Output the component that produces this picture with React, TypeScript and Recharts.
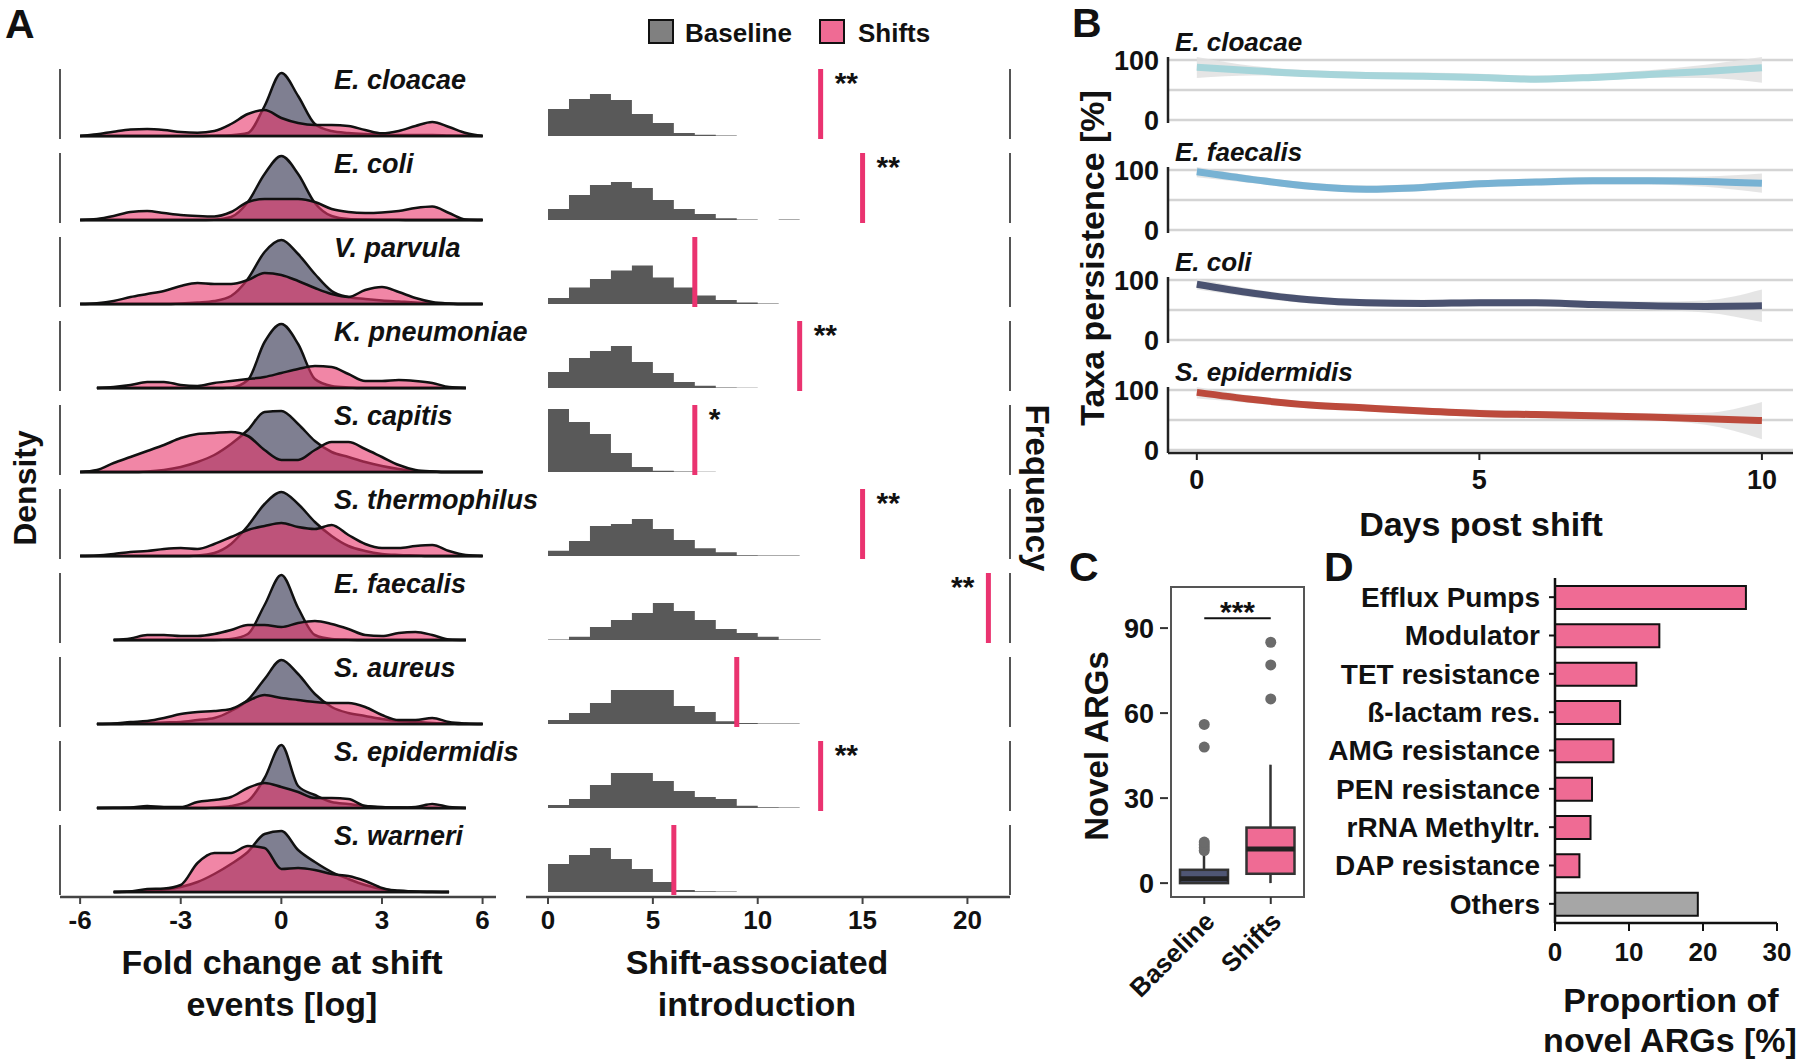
import React from 'react';
import {
  ComposedChart,
  BarChart,
  Area,
  Line,
  Bar,
  Scatter,
  Cell,
  CartesianGrid,
  XAxis,
  YAxis,
  ReferenceLine,
  ReferenceDot,
  ReferenceArea,
  Label,
} from 'recharts';

const FONT = "'Liberation Sans', Arial, Helvetica, sans-serif";
const INK = '#111111';
const PINK = '#ef6b94';
const RED = '#ea3370';

// ---------- A: fold change densities (ridge heights) ----------
const SPECIES_A = [
  'E. cloacae', 'E. coli', 'V. parvula', 'K. pneumoniae', 'S. capitis',
  'S. thermophilus', 'E. faecalis', 'S. aureus', 'S. epidermidis', 'S. warneri',
];
const FC_X = [-6, -5.5, -5, -4.5, -4, -3.5, -3, -2.5, -2, -1.5, -1, -0.5, 0, 0.5, 1, 1.5, 2, 2.5, 3, 3.5, 4, 4.5, 5, 5.5, 6];

const cloacaeBase = [0, 0, 0, 0, 0, 0, 0, 0, 0.3, 0.8, 3, 30, 63, 40, 12, 5, 3, 2, 1.5, 1, 1, 1, 0.5, 0.2, 0];
const cloacaeShift = [0, 1.7, 4.3, 6.5, 7, 6, 4, 3.3, 5, 12, 22, 26, 18, 13, 11, 11, 10, 6, 2.7, 5, 10, 14, 9, 3, 0];
const coliBase = [0, 0, 0, 0, 0, 0, 0, 0, 0.3, 3, 18, 46, 64, 46, 17, 4, 1, 0.5, 0.3, 0.2, 0, 0, 0, 0, 0];
const coliShift = [0, 1, 4, 8, 9, 7, 5, 4, 3.5, 8, 18, 21, 21, 21, 18, 11, 8, 7, 7.5, 9, 12, 13.5, 7, 0.5, 0];
const parvulaBase = [0, 0, 0, 0, 0, 0, 0.5, 1.5, 3, 8, 25, 52, 64, 50, 30, 13, 7, 5, 3.5, 2.5, 1.5, 1, 0.3, 0, 0];
const parvulaShift = [0, 0.8, 3, 7, 10, 13, 18, 21, 20, 20, 24, 31, 29, 23, 16, 10, 7, 14, 17, 12, 6, 2, 0.5, 0, 0];
const pneumoniaeBase = [null, 0, 0, 0, 0, 0, 0, 0, 0, 0.5, 8, 46, 64, 44, 9, 2, 0.5, 0, 0, 0, 0, 0, 0, 0, null];
const pneumoniaeShift = [null, 0, 1, 3, 6, 6, 3, 2, 5, 7, 9, 11, 15, 19, 22, 21, 14, 7, 7, 8, 7, 5, 1, 0, null];
const capitisBase = [0, 0, 0, 0, 0.5, 2, 5, 10, 17, 28, 42, 60, 61, 48, 31, 20, 15, 10, 6, 3, 1, 0.5, 0, 0, 0];
const capitisShift = [0, 2, 9, 15, 21, 27, 34, 38, 39, 40, 36, 22, 12, 12, 22, 30, 30, 23, 15, 7, 2, 0.5, 0, 0, 0];
const thermophilusBase = [0, 0, 0, 0, 0, 0, 0, 0.5, 3, 12, 30, 52, 64, 52, 34, 20, 10, 5, 2, 1, 0.5, 0, 0, 0, 0];
const thermophilusShift = [0, 0.5, 2, 4, 5, 7, 8, 7, 12, 19, 26, 30, 33, 29, 27, 31, 21, 12, 8, 8, 10, 11, 5, 1, 0];
const faecalisBase = [null, null, 0, 0, 0, 0, 0, 0, 0, 1, 6, 35, 65, 32, 5, 1, 0.3, 0, 0, 0, 0, 0, 0, 0, null];
const faecalisShift = [null, null, 0, 1.5, 5, 5, 4, 4, 6, 10, 15, 15, 13, 17, 19, 16, 11, 5, 4, 7, 8, 5, 0.5, 0, null];
const aureusBase = [null, 0, 0, 0.5, 1, 1.5, 2, 4, 6, 13, 24, 45, 64, 50, 30, 17, 11, 8, 5, 3, 2, 1, 0.5, 0, 0];
const aureusShift = [null, 0, 0.5, 2, 3, 6, 10, 12, 13, 15, 23, 29, 26, 24, 22, 21, 21, 17, 9, 4, 4, 6, 2, 0.5, 0];
const epidermidisBase = [null, 0, 0, 0, 0, 0, 0, 0, 0.5, 2, 7, 30, 63, 22, 13, 6, 4, 2, 1, 0.5, 0.3, 0, 0, 0, null];
const epidermidisShift = [null, 0, 0.3, 0.5, 2, 1, 1, 6, 8, 11, 20, 25, 21, 16, 10, 10, 9, 2, 0.5, 0.5, 1, 4, 1, 0, null];
const warneriBase = [null, null, 0, 0.5, 1, 2.5, 5, 10, 18, 28, 40, 58, 61, 42, 30, 20, 13, 7, 3, 1.5, 0.5, 0.2, 0, null, null];
const warneriShift = [null, null, 0, 0.5, 3, 3.5, 7, 29, 39, 39, 46, 44, 23, 24, 22, 18, 16, 11, 4, 0.7, 0.3, 0, 0, null, null];

const RIDGE_BASE = [cloacaeBase, coliBase, parvulaBase, pneumoniaeBase, capitisBase, thermophilusBase, faecalisBase, aureusBase, epidermidisBase, warneriBase];
const RIDGE_SHIFT = [cloacaeShift, coliShift, parvulaShift, pneumoniaeShift, capitisShift, thermophilusShift, faecalisShift, aureusShift, epidermidisShift, warneriShift];

// ---------- A: shift-associated introduction histograms ----------
const INTRO_BIN = [0, 1, 2, 3, 4, 5, 6, 7, 8, 9, 10, 11, 12, 13];
const cloacaeIntro = [27, 37, 42, 36, 22, 13, 3, 1.3, 0.4];
const coliIntro = [11, 25, 35, 38, 32, 20, 11, 6, 1.7, 0.5, 0, 0.6];
const parvulaIntro = [6, 16.5, 25, 33.5, 38.5, 26.5, 16.5, 8.5, 4, 1.5, 0.4];
const pneumoniaeIntro = [16, 30, 37, 42, 26, 15, 6, 2.3, 0.5, 0.3];
const capitisIntro = [63, 50, 38, 19, 5, 1.3, 0.4, 0.3];
const thermophilusIntro = [5.3, 15, 30, 32, 37, 27, 16, 7.7, 3.7, 0.7, 0.4, 0.4];
const faecalisIntro = [0.6, 3.3, 13, 20, 27, 37, 29, 20, 11, 7, 3.3, 0.5, 0.5];
const aureusIntro = [4, 11, 21, 34, 34, 34, 18, 12, 2.7, 1, 0.4, 0.4];
const epidermidisIntro = [3, 9, 23, 35, 35, 27, 17, 11, 9, 2.3, 0.7, 0.4];
const warneriIntro = [28, 37, 44, 33, 23, 10, 2, 0.7, 0.4];
const HIST = [cloacaeIntro, coliIntro, parvulaIntro, pneumoniaeIntro, capitisIntro, thermophilusIntro, faecalisIntro, aureusIntro, epidermidisIntro, warneriIntro];
const OBSERVED = [13, 15, 7, 12, 7, 15, 21, 9, 13, 6];
const SIGNIF = ['**', '**', '', '**', '*', '**', '**', '', '**', ''];

// ---------- B: taxa persistence ----------
const SPECIES_B = ['E. cloacae', 'E. faecalis', 'E. coli', 'S. epidermidis'];
const DAYS = [0, 1, 2, 3, 4, 5, 6, 7, 8, 9, 10];
const cloacaeFit = [88, 82, 77, 74, 73, 71, 68, 71, 76, 81, 87];
const cloacaeLo = [70, 74, 72, 69, 68, 66, 63, 66, 70, 70, 62];
const cloacaeHi = [105, 90, 83, 80, 79, 77, 74, 77, 83, 92, 105];
const faecalisFit = [97, 84, 73, 68, 71, 77, 80, 82, 82, 81, 78];
const faecalisLo = [88, 78, 67, 62, 65, 71, 74, 76, 76, 72, 62];
const faecalisHi = [105, 90, 79, 74, 77, 83, 86, 88, 88, 89, 94];
const coliFit = [93, 78, 67, 62, 61, 62, 62, 59, 57, 56, 57];
const coliLo = [84, 71, 61, 56, 55, 56, 56, 53, 50, 46, 30];
const coliHi = [102, 85, 73, 68, 67, 68, 68, 65, 64, 66, 84];
const epidermidisFit = [96, 84, 75, 70, 65, 61, 59, 57, 55, 52, 49];
const epidermidisLo = [86, 78, 69, 64, 59, 55, 53, 51, 49, 42, 18];
const epidermidisHi = [105, 90, 81, 76, 71, 67, 65, 63, 61, 62, 80];
const FITS = [cloacaeFit, faecalisFit, coliFit, epidermidisFit];
const LOS = [cloacaeLo, faecalisLo, coliLo, epidermidisLo];
const HIS = [cloacaeHi, faecalisHi, coliHi, epidermidisHi];
const LINE_COLORS = ['#a7d5da', '#78b2d3', '#4a5270', '#bc4a3c'];

// ---------- C: novel ARGs ----------
const BOX_GROUPS = ['Baseline', 'Shifts'];
const WHISKER_LO = [0, 0];
const BOX_Q1 = [0, 3.3];
const BOX_MEDIAN = [1.5, 12];
const BOX_Q3 = [4.7, 19.6];
const WHISKER_HI = [10.5, 41.8];
const BOX_FILL = ['#4f5674', PINK];
const OUTLIER_GROUP = ['Baseline', 'Baseline', 'Baseline', 'Baseline', 'Baseline', 'Baseline', 'Shifts', 'Shifts', 'Shifts'];
const OUTLIER_VALUE = [11.5, 12.5, 13.5, 14.5, 48, 56, 65, 77, 85];

// ---------- D: ARG classes ----------
const ARG_CLASS = ['Efflux Pumps', 'Modulator', 'TET resistance', 'ß-lactam res.', 'AMG resistance', 'PEN resistance', 'rRNA Methyltr.', 'DAP resistance', 'Others'];
const ARG_SHARE = [25.8, 14.1, 11.0, 8.8, 7.9, 5.0, 4.8, 3.3, 19.3];

// layout of the ridge rows (px)
const ROW_TOP = 136;
const ROW_STEP = 84;
const PLOT_BOTTOM = 897;
const rowOffset = (i: number) => PLOT_BOTTOM - (ROW_TOP + ROW_STEP * i);

const ridgeData = FC_X.map((x, j) => {
  const row: Record<string, number | null> = { x };
  SPECIES_A.forEach((_, i) => {
    row[`b${i}`] = RIDGE_BASE[i][j];
    row[`s${i}`] = RIDGE_SHIFT[i][j];
  });
  return row;
});

const histData = INTRO_BIN.map((x) => {
  const row: Record<string, number | null> = { x };
  HIST.forEach((bins, i) => {
    row[`h${i}`] = x < bins.length ? bins[x] : x === bins.length ? 0 : null;
  });
  return row;
});

const ranged = (key: string, off: number) => (d: any) =>
  d[key] == null ? [null, null] : [off, off + d[key]];

const boxData = BOX_GROUPS.map((g, i) => ({
  g, lo: WHISKER_LO[i], q1: BOX_Q1[i], med: BOX_MEDIAN[i], q3: BOX_Q3[i], hi: WHISKER_HI[i], fill: BOX_FILL[i],
}));
const outlierData = OUTLIER_VALUE.map((v, i) => ({ g: OUTLIER_GROUP[i], v }));
const argData = ARG_CLASS.map((name, i) => ({ name, v: ARG_SHARE[i] }));

const tickFont = (size: number) => ({ fontSize: size, fontWeight: 700, fill: INK, fontFamily: FONT });

function Txt({ x, y, size, children, anchor = 'start', rotate = 0, italic = false }: any) {
  const tx = anchor === 'middle' ? '-50%' : anchor === 'end' ? '-100%' : '0';
  return (
    <div
      style={{
        position: 'absolute', left: x, top: y, fontSize: size, lineHeight: 1, fontWeight: 700,
        fontStyle: italic ? 'italic' : 'normal', whiteSpace: 'nowrap', color: INK,
        transform: `translate(${tx}, -50%) rotate(${rotate}deg)`,
      }}
    >
      {children}
    </div>
  );
}

function BoxShape(props: any) {
  const { x, y, width, height, payload } = props;
  const span = payload.hi - payload.lo;
  const py = (v: number) => y + (height * (payload.hi - v)) / span;
  const cx = x + width / 2;
  return (
    <g>
      <line x1={cx} x2={cx} y1={py(payload.hi)} y2={py(payload.lo)} stroke="#333" strokeWidth={2.5} />
      <rect x={x} y={py(payload.q3)} width={width} height={py(payload.q1) - py(payload.q3)} fill={payload.fill} stroke="#333" strokeWidth={2.5} />
      <line x1={x} x2={x + width} y1={py(payload.med)} y2={py(payload.med)} stroke="#222" strokeWidth={5} />
    </g>
  );
}

function SlantTick({ x, y, payload }: any) {
  const ax = x + 12;
  const ay = y + 17;
  return (
    <text x={ax} y={ay} transform={`rotate(-45, ${ax}, ${ay})`} textAnchor="end" fontSize={26} fontWeight={700} fill={INK} fontFamily={FONT}>
      {payload.value}
    </text>
  );
}

export default function App() {
  return (
    <div style={{ position: 'absolute', left: 0, top: 0, width: 1800, height: 1063, background: '#fff', fontFamily: FONT, overflow: 'hidden' }}>
      {/* A: ridgelines */}
      <div style={{ position: 'absolute', left: 0, top: 0 }}>
        <ComposedChart width={530} height={1063} data={ridgeData} margin={{ top: 40, right: 34, bottom: 126, left: 60 }}>
          <XAxis dataKey="x" type="number" domain={[-6.6, 6.4]} ticks={[-6, -3, 0, 3, 6]} allowDataOverflow height={40}
            axisLine={{ stroke: '#444', strokeWidth: 2.5 }} tickLine={{ stroke: '#444', strokeWidth: 2 }} tickSize={7} tickMargin={7}
            tick={tickFont(26)} />
          <YAxis hide type="number" domain={[0, 857]} allowDataOverflow />
          {SPECIES_A.map((_, i) => (
            <ReferenceLine key={`ax${i}`} segment={[{ x: -6.6, y: rowOffset(i) - 3 }, { x: -6.6, y: rowOffset(i) + 67 }]} stroke="#555" strokeWidth={2} ifOverflow="visible" />
          ))}
          {SPECIES_A.map((_, i) => (
            <Area key={`b${i}`} dataKey={ranged(`b${i}`, rowOffset(i))} type="monotone" fill="#7f7f91" fillOpacity={1}
              stroke={INK} strokeWidth={2.5} isAnimationActive={false} />
          ))}
          {SPECIES_A.map((_, i) => (
            <Area key={`s${i}`} dataKey={ranged(`s${i}`, rowOffset(i))} type="monotone" fill="#e8356a" fillOpacity={0.6}
              stroke={INK} strokeWidth={2.5} isAnimationActive={false} />
          ))}
        </ComposedChart>
      </div>

      {/* A: histograms */}
      <div style={{ position: 'absolute', left: 526, top: 0 }}>
        <ComposedChart width={492} height={1063} data={histData} margin={{ top: 40, right: 8, bottom: 126, left: 0 }}>
          <XAxis dataKey="x" type="number" domain={[-1.05, 22.03]} ticks={[0, 5, 10, 15, 20]} allowDataOverflow height={40}
            axisLine={{ stroke: '#444', strokeWidth: 2.5 }} tickLine={{ stroke: '#444', strokeWidth: 2 }} tickSize={7} tickMargin={7}
            tick={tickFont(26)} />
          <YAxis hide type="number" domain={[0, 857]} allowDataOverflow />
          {HIST.map((_, i) => (
            <Area key={`h${i}`} dataKey={ranged(`h${i}`, rowOffset(i))} type="stepAfter" fill="#595959" fillOpacity={1}
              stroke="none" isAnimationActive={false} />
          ))}
          {HIST.map((_, i) => (
            <ReferenceLine key={`r${i}`} segment={[{ x: 22.03, y: rowOffset(i) - 3 }, { x: 22.03, y: rowOffset(i) + 67 }]} stroke="#555" strokeWidth={2} ifOverflow="visible" />
          ))}
          {OBSERVED.map((v, i) => (
            <ReferenceLine key={`o${i}`} segment={[{ x: v, y: rowOffset(i) - 3 }, { x: v, y: rowOffset(i) + 67 }]} stroke={RED} strokeWidth={5} ifOverflow="visible" />
          ))}
          {OBSERVED.map((v, i) =>
            SIGNIF[i] ? (
              <ReferenceDot key={`p${i}`} x={v} y={rowOffset(i) + 54} r={0} fill="none" stroke="none" ifOverflow="visible"
                label={{ value: SIGNIF[i], position: i === 6 ? 'left' : 'right', offset: 14, fontSize: 30, fontWeight: 700, fill: INK, fontFamily: FONT }} />
            ) : null,
          )}
        </ComposedChart>
      </div>

      {/* B: persistence rows */}
      {SPECIES_B.map((name, r) => {
        const data = DAYS.map((d, k) => ({ d, m: FITS[r][k], band: [LOS[r][k], HIS[r][k]] }));
        const last = r === SPECIES_B.length - 1;
        return (
          <div key={name} style={{ position: 'absolute', left: 1100, top: 37 + 110 * r }}>
            <ComposedChart width={700} height={last ? 146 : 106} data={data} margin={{ top: 20, right: 7, bottom: 20, left: 0 }}>
              <CartesianGrid vertical={false} horizontalValues={[0, 50, 100]} stroke="#d4d4d4" strokeWidth={2.5} />
              <XAxis dataKey="d" type="number" domain={[-0.51, 10.55]} ticks={[0, 5, 10]} allowDataOverflow hide={!last} height={40}
                axisLine={{ stroke: '#222', strokeWidth: 2.5 }} tickLine={{ stroke: '#222', strokeWidth: 2 }} tickSize={7} tickMargin={10}
                tick={tickFont(27)} />
              <YAxis type="number" domain={[-5, 105]} ticks={[0, 100]} allowDataOverflow width={68} interval={0}
                axisLine={{ stroke: '#222', strokeWidth: 2.5 }} tickLine={false} tickSize={0} tickMargin={9} tick={tickFont(27)} />
              <Area dataKey="band" type="monotone" fill="#e0e0e0" fillOpacity={0.85} stroke="none" isAnimationActive={false} />
              <Line dataKey="m" type="monotone" stroke={LINE_COLORS[r]} strokeWidth={7} dot={false} activeDot={false} isAnimationActive={false} />
            </ComposedChart>
          </div>
        );
      })}

      {/* C: boxplot */}
      <div style={{ position: 'absolute', left: 1100, top: 560 }}>
        <ComposedChart width={230} height={503} data={boxData} margin={{ top: 27, right: 23, bottom: 66, left: 0 }}>
          <XAxis dataKey="g" type="category" allowDuplicatedCategory={false} padding={{ left: 3, right: 3 }} height={100} interval={0}
            axisLine={false} tickLine={{ stroke: '#333', strokeWidth: 2 }} tickSize={7} tick={<SlantTick />} />
          <YAxis type="number" domain={[-4.9, 104.5]} ticks={[0, 30, 60, 90]} allowDataOverflow width={68} interval={0}
            axisLine={false} tickLine={{ stroke: '#333', strokeWidth: 2 }} tickSize={8} tickMargin={6} tick={tickFont(27)} />
          <ReferenceArea y1={-4.9} y2={104.5} fill="none" stroke="#555" strokeWidth={2} ifOverflow="visible" />
          <Bar dataKey={(d: any) => [d.lo, d.hi]} barSize={48} shape={<BoxShape />} isAnimationActive={false} />
          <Scatter data={outlierData} dataKey="v" isAnimationActive={false}
            shape={(p: any) => <circle cx={p.cx} cy={p.cy} r={5.5} fill="#6b6b6b" />} />
          <ReferenceLine segment={[{ x: 'Baseline', y: 93.5 }, { x: 'Shifts', y: 93.5 }]} stroke={INK} strokeWidth={2} ifOverflow="visible">
            <Label value="***" position="top" offset={-4} fontSize={30} fontWeight={700} fill={INK} fontFamily={FONT} />
          </ReferenceLine>
        </ComposedChart>
      </div>

      {/* D: horizontal bars */}
      <div style={{ position: 'absolute', left: 1300, top: 560 }}>
        <BarChart layout="vertical" width={500} height={503} data={argData} margin={{ top: 18, right: 23, bottom: 95, left: 0 }}>
          <XAxis type="number" domain={[0, 30]} ticks={[0, 10, 20, 30]} allowDataOverflow height={45}
            axisLine={{ stroke: INK, strokeWidth: 2.5 }} tickLine={{ stroke: INK, strokeWidth: 2 }} tickSize={8} tickMargin={12} tick={tickFont(26)} />
          <YAxis type="category" dataKey="name" width={255} interval={0}
            axisLine={{ stroke: INK, strokeWidth: 2.5 }} tickLine={{ stroke: INK, strokeWidth: 2 }} tickSize={6} tickMargin={9} tick={tickFont(28)} />
          <Bar dataKey="v" barSize={23} stroke={INK} strokeWidth={2} isAnimationActive={false}>
            {argData.map((d, i) => (
              <Cell key={d.name} fill={i === ARG_CLASS.length - 1 ? '#a6a6a6' : PINK} />
            ))}
          </Bar>
        </BarChart>
      </div>

      {/* text */}
      <Txt x={5} y={24} size={41}>A</Txt>
      <Txt x={1072} y={23} size={41}>B</Txt>
      <Txt x={1069} y={567} size={41}>C</Txt>
      <Txt x={1324} y={567} size={41}>D</Txt>

      <div style={{ position: 'absolute', left: 648, top: 19, width: 26, height: 25, boxSizing: 'border-box', background: '#808080', border: '2px solid #111' }} />
      <Txt x={685} y={33} size={26}>Baseline</Txt>
      <div style={{ position: 'absolute', left: 819, top: 19, width: 26, height: 25, boxSizing: 'border-box', background: PINK, border: '2px solid #111' }} />
      <Txt x={858} y={33} size={26}>Shifts</Txt>

      {SPECIES_A.map((name, i) => (
        <Txt key={name} x={334} y={ROW_TOP + ROW_STEP * i - 56} size={27} italic>{name}</Txt>
      ))}
      {SPECIES_B.map((name, r) => (
        <Txt key={`B${name}`} x={1175} y={42 + 110 * r} size={26} italic>{name}</Txt>
      ))}

      <Txt x={25} y={488} size={32} anchor="middle" rotate={-90}>Density</Txt>
      <Txt x={1037} y={488} size={33} anchor="middle" rotate={90}>Frequency</Txt>
      <Txt x={282} y={962} size={34} anchor="middle">Fold change at shift</Txt>
      <Txt x={282} y={1004} size={34} anchor="middle">events [log]</Txt>
      <Txt x={757} y={962} size={34} anchor="middle">Shift-associated</Txt>
      <Txt x={757} y={1004} size={34} anchor="middle">introduction</Txt>

      <Txt x={1092} y={258} size={34} anchor="middle" rotate={-90}>Taxa persistence [%]</Txt>
      <Txt x={1481} y={524} size={34} anchor="middle">Days post shift</Txt>
      <Txt x={1096} y={746} size={33} anchor="middle" rotate={-90}>Novel ARGs</Txt>
      <Txt x={1671} y={1000} size={34} anchor="middle">Proportion of</Txt>
      <Txt x={1670} y={1040} size={34} anchor="middle">novel ARGs [%]</Txt>
    </div>
  );
}
